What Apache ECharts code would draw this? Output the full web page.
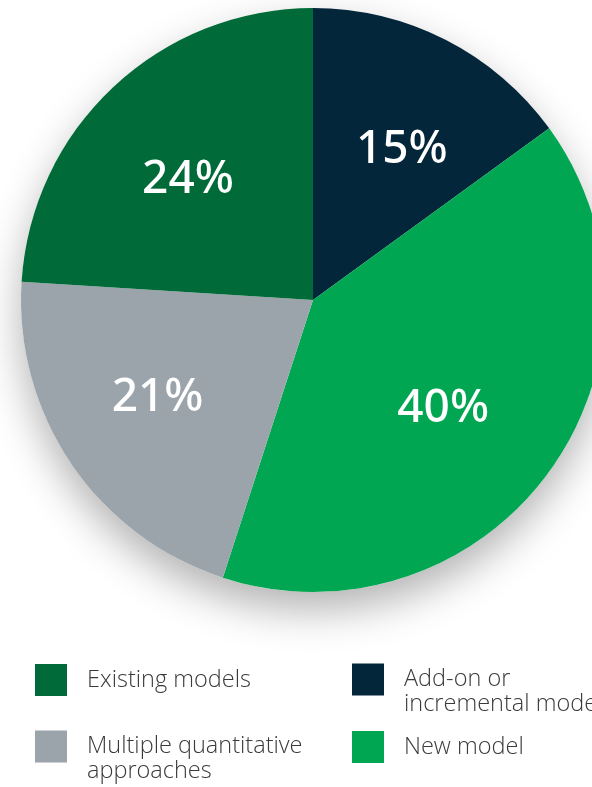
<!DOCTYPE html>
<html>
<head>
<meta charset="utf-8">
<script src="https://cdn.jsdelivr.net/npm/echarts@6/dist/echarts.min.js"></script>
<style>
  html, body { margin: 0; padding: 0; background: #ffffff; }
  #chart { width: 592px; height: 787px; }
</style>
</head>
<body>
<div id="chart"></div>
<script>
// Share of approaches, clockwise from 12 o'clock
const categories = ['Add-on or incremental models', 'New model', 'Multiple quantitative approaches', 'Existing models'];
const shares = [15, 40, 21, 24];
const colors = ['#03263a', '#00a651', '#9ba4ab', '#006b38'];
// Legend text, broken onto lines as printed. A leading blank line keeps the
// first printed line level with the square and lets the second hang below.
const legendText = {
  'Existing models': 'Existing models',
  'Add-on or incremental models': '\nAdd-on or\nincremental models',
  'Multiple quantitative approaches': '\nMultiple quantitative\napproaches',
  'New model': 'New model'
};

const center = [313, 300];
const radius = 292;
// small nudges to the percentage labels, per slice
const labelNudge = [[8, 9], [-14, 4], [-8, -2], [-3, 10]];

const data = categories.map((name, i) => ({
  name: name,
  value: shares[i],
  itemStyle: { color: colors[i] }
}));

const legendFont = {
  fontFamily: '"Open Sans", Lato, sans-serif',
  fontWeight: 300,
  fontSize: 23.5,
  lineHeight: 25,
  color: '#3a3a3a'
};

function legendAt(name, left, top) {
  return {
    data: [name],
    left: left,
    top: top,
    orient: 'vertical',
    icon: 'rect',
    itemWidth: 32,
    itemHeight: 32,
    padding: 0,
    selectedMode: false,
    formatter: n => legendText[n],
    textStyle: Object.assign({}, legendFont, { padding: [0, 0, 0, 15] })
  };
}

const chart = echarts.init(document.getElementById('chart'), null, { renderer: 'canvas' });
chart.setOption({
  backgroundColor: '#ffffff',
  animation: false,
  legend: [
    legendAt('Existing models', 35, 664),
    legendAt('Add-on or incremental models', 352, 642),
    legendAt('Multiple quantitative approaches', 35, 709),
    legendAt('New model', 352, 731)
  ],
  series: [
    {
      // soft drop shadow beneath the disc
      type: 'pie',
      silent: true,
      z: 1,
      center: center,
      radius: [0, radius],
      label: { show: false },
      labelLine: { show: false },
      itemStyle: {
        color: '#ffffff',
        shadowBlur: 42,
        shadowOffsetY: 18,
        shadowColor: 'rgba(0,0,0,0.30)'
      },
      data: [{ name: '', value: 1 }]
    },
    {
      type: 'pie',
      silent: true,
      z: 2,
      center: center,
      radius: [0, radius],
      startAngle: 90,
      clockwise: true,
      label: { show: false },
      labelLine: { show: false },
      emphasis: { disabled: true },
      data: data
    },
    {
      // percentage labels, placed at about 0.6 of the radius
      type: 'pie',
      silent: true,
      z: 3,
      center: center,
      radius: [0, radius * 1.2],
      startAngle: 90,
      clockwise: true,
      itemStyle: { color: 'rgba(0,0,0,0)' },
      labelLine: { show: false },
      emphasis: { disabled: true },
      label: {
        show: true,
        position: 'inside',
        formatter: p => p.value + '%',
        color: '#ffffff',
        fontFamily: '"Noto Sans", Lato, sans-serif',
        fontWeight: 500,
        fontSize: 46
      },
      data: categories.map((name, i) => ({
        name: name,
        value: shares[i],
        label: { offset: labelNudge[i] }
      }))
    }
  ]
});
</script>
</body>
</html>
